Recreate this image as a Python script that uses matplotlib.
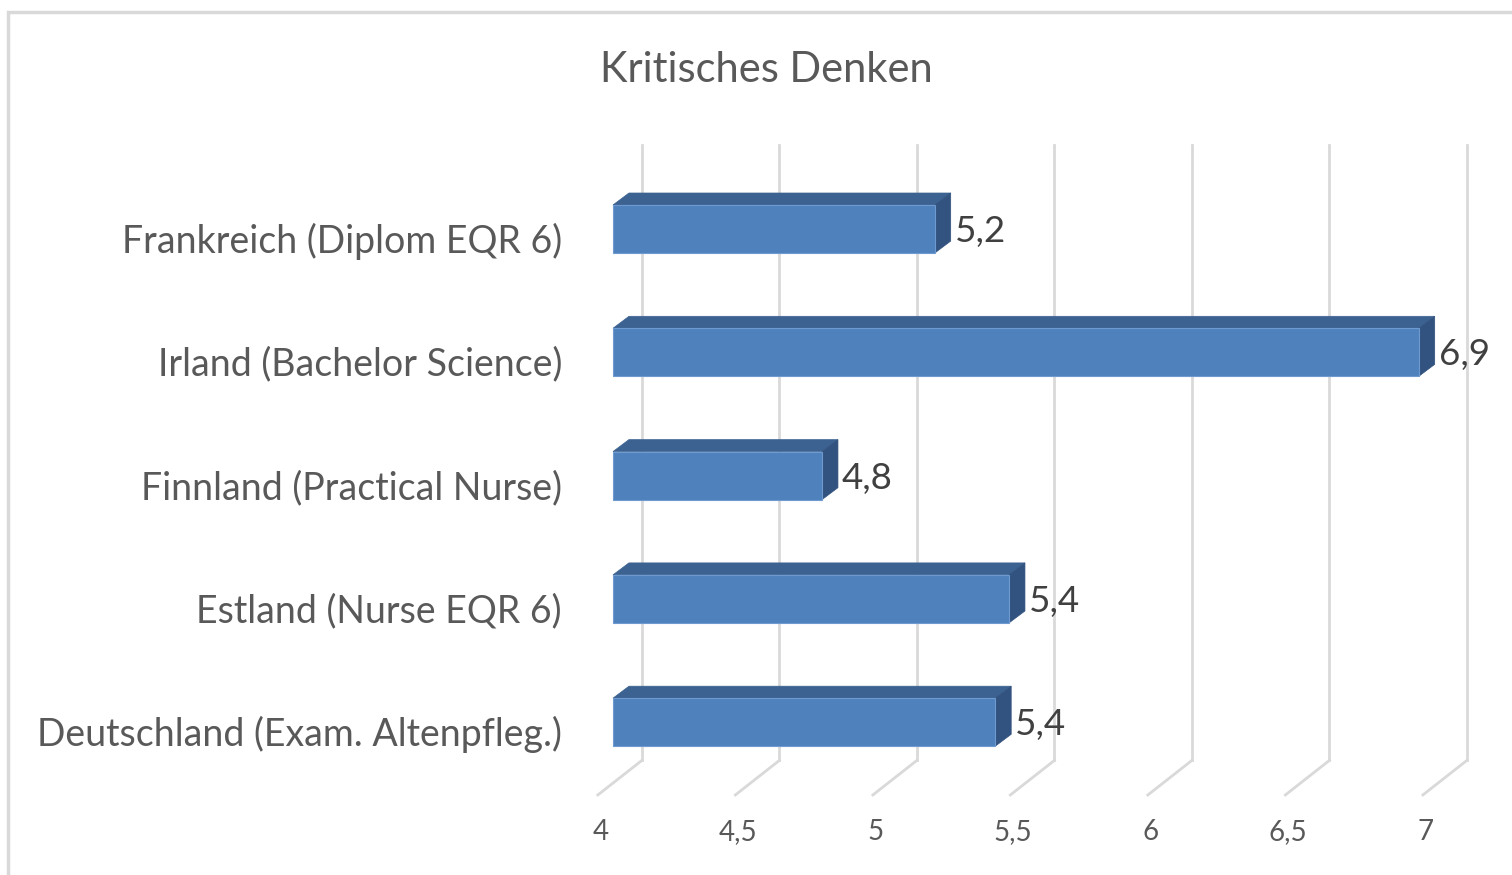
import matplotlib.pyplot as plt
from matplotlib.patches import Polygon, Rectangle

# Daten
kategorien = ['Frankreich (Diplom EQR 6)', 'Irland (Bachelor Science)',
              'Finnland (Practical Nurse)', 'Estland (Nurse EQR 6)',
              'Deutschland (Exam. Altenpfleg.)']
werte = [5.17, 6.93, 4.76, 5.44, 5.39]
x_ticks = [4, 4.5, 5, 5.5, 6, 6.5, 7]
x_tick_labels = ['4', '4,5', '5', '5,5', '6', '6,5', '7']
titel = 'Kritisches Denken'

plt.rcParams['font.family'] = ['Lato', 'DejaVu Sans']

fig = plt.figure(figsize=(15.12, 8.75), dpi=100)
ax = fig.add_axes([0, 0, 1, 1])
ax.set_xlim(4 - 613 / 275, 4 + (1512 - 613) / 275)
ax.set_ylim((875 - 229) / 123.3, -229 / 123.3)
ax.axis('off')

# 3D-Effekt (in Dateneinheiten)
bar_h = 0.39
bar_dx, bar_dy = 0.058, 0.097
wall_dx = 0.105
floor_dx = -0.055
grid_top, grid_bottom, floor_y = -0.68, 4.31, 4.59

farbe_front = '#4F81BD'
farbe_top = '#3C6291'
farbe_seite = '#32537F'
grid_farbe = '#D9D9D9'

# Gitterlinien (Rueckwand + Boden)
for t in x_ticks:
    ax.plot([t + wall_dx, t + wall_dx], [grid_top, grid_bottom], color=grid_farbe, lw=2, zorder=1)
    ax.plot([t + wall_dx, t + floor_dx], [grid_bottom, floor_y], color=grid_farbe, lw=2, zorder=1)

for t, lab in zip(x_ticks, x_tick_labels):
    ax.text(t + floor_dx + 0.01, 4.89, lab, ha='center', va='center', fontsize=20, color='#595959')

# Balken
x0 = x_ticks[0]
for i, (kat, v) in enumerate(zip(kategorien, werte)):
    oben, unten = i - bar_h / 2, i + bar_h / 2
    ax.add_patch(Polygon([(x0, oben), (v, oben), (v + bar_dx, oben - bar_dy), (x0 + bar_dx, oben - bar_dy)],
                         closed=True, facecolor=farbe_top, edgecolor=farbe_top, lw=0.5, zorder=3))
    ax.add_patch(Polygon([(v, oben), (v + bar_dx, oben - bar_dy), (v + bar_dx, unten - bar_dy), (v, unten)],
                         closed=True, facecolor=farbe_seite, edgecolor=farbe_seite, lw=0.5, zorder=3))
    ax.add_patch(Rectangle((x0, oben), v - x0, bar_h, facecolor=farbe_front,
                           edgecolor='#6E9AD0', lw=0.8, zorder=4))
    # Wertbeschriftung
    ax.text(v + bar_dx + 0.015, i + 0.02, f'{v:.1f}'.replace('.', ','), ha='left', va='center',
            fontsize=26.5, color='#404040', zorder=5)
    # Kategorie
    ax.text(x0 - 0.185, i + 0.1, kat, ha='right', va='center', fontsize=27, color='#595959')

# Titel
fig.text(766 / 1512, 1 - 70 / 875, titel, ha='center', va='center', fontsize=30, color='#595959')

# Rahmen
fig.patches.append(Rectangle((8 / 1512, -0.01), 1.02, 1 - 12 / 875 + 0.01, transform=fig.transFigure,
                             fill=False, edgecolor='#D9D9D9', lw=2.5))

fig.savefig('out.png', dpi=100)
